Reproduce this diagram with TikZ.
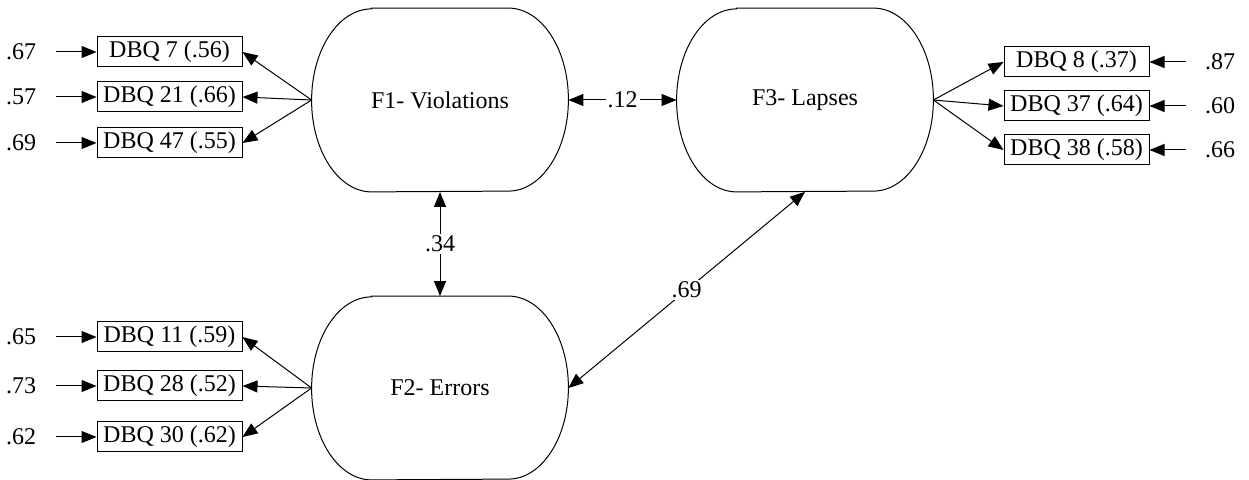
\documentclass[tikz,border=0pt]{standalone}
\usepackage{fontspec}
\setmainfont{Liberation Serif}
\usetikzlibrary{arrows.meta}
\begin{document}
\begin{tikzpicture}[x=0.5pt,y=-0.5pt,
  every node/.style={font=\fontsize{12}{14}\selectfont},
  ind/.style={draw,line width=0.5pt,minimum width=72.5pt,minimum height=15pt,inner sep=1pt},
  lat/.style={minimum width=128pt,minimum height=91.5pt,inner sep=0pt},
  errl/.style={minimum width=35pt,inner sep=0pt},
  errr/.style={minimum width=34pt,inner sep=0pt},
  con/.style={line width=0.5pt,-{Triangle[length=7.5pt,width=6pt]}},
  cov/.style={line width=0.5pt,{Triangle[length=7.5pt,width=6pt]}-{Triangle[length=7.5pt,width=6pt]}},
  lbl/.style={fill=white,inner sep=1pt}]
\useasboundingbox (0,0) rectangle (1249,480);
\newcommand{\stadium}[1]{%
  \draw[line width=0.5pt] ([xshift=30pt]#1.north west) -- ([xshift=-30pt]#1.north east)
    arc[start angle=90,end angle=-90,x radius=30pt,y radius=45.75pt]
    -- ([xshift=30pt]#1.south west)
    arc[start angle=270,end angle=90,x radius=30pt,y radius=45.75pt] -- cycle;}
% latent factors
\node[lat] (F1) at (440,100) {F1- Violations};
\node[lat] (F3) at (805,100) {F3- Lapses};
\node[lat] (F2) at (440,388) {F2- Errors};
\stadium{F1}\stadium{F3}\stadium{F2}
% left top indicators
\node[ind] (b7) at (169.5,52) {DBQ 7 (.56)};
\node[ind] (b21) at (169.5,97) {DBQ 21 (.66)};
\node[ind] (b47) at (169.5,143) {DBQ 47 (.55)};
% left bottom indicators
\node[ind] (b11) at (169.5,337) {DBQ 11 (.59)};
\node[ind] (b28) at (169.5,386) {DBQ 28 (.52)};
\node[ind] (b30) at (169.5,437) {DBQ 30 (.62)};
% right indicators
\node[ind] (b8) at (1076.5,62) {DBQ 8 (.37)};
\node[ind] (b37) at (1076.5,106) {DBQ 37 (.64)};
\node[ind] (b38) at (1076.5,150) {DBQ 38 (.58)};
% error labels
\node[errl] (e7) at (21,52) {.67};
\node[errl] (e21) at (21,97) {.57};
\node[errl] (e47) at (21,143) {.69};
\node[errl] (e11) at (21,337) {.65};
\node[errl] (e28) at (21,386) {.73};
\node[errl] (e30) at (21,437) {.62};
\node[errr] (e8) at (1220,62) {.87};
\node[errr] (e37) at (1220,106) {.60};
\node[errr] (e38) at (1220,150) {.66};
\foreach \e/\b in {e7/b7,e21/b21,e47/b47,e11/b11,e28/b28,e30/b30}
  \draw[con] (\e.east) -- (\b.west);
\foreach \e/\b in {e8/b8,e37/b37,e38/b38}
  \draw[con] (\e.west) -- (\b.east);
% loadings
\foreach \b in {b7,b21,b47} \draw[con] (F1.west) -- (\b.east);
\foreach \b in {b11,b28,b30} \draw[con] (F2.west) -- (\b.east);
\foreach \b in {b8,b37,b38} \draw[con] (F3.east) -- (\b.west);
% covariances
\draw[cov] (F1.east) -- node[lbl] (c12) {.12} (F3.west);
\draw[cov] (F1.south) -- node[lbl] (c34) {.34} (F2.north);
\draw[cov] (F2.east) -- node[lbl] (c69) {.69} (F3.south);
\end{tikzpicture}
\end{document}
